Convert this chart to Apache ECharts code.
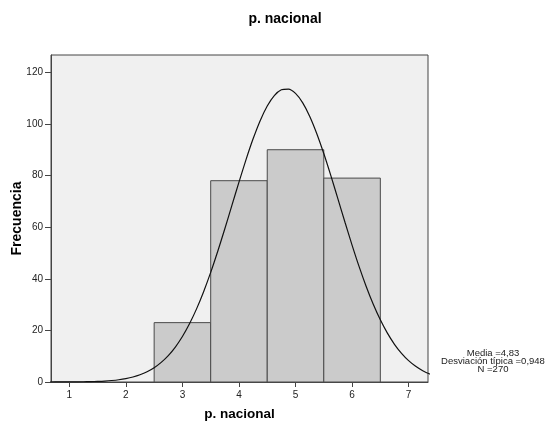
<!DOCTYPE html>
<html>
<head>
<meta charset="utf-8">
<script src="https://cdn.jsdelivr.net/npm/echarts@6/dist/echarts.min.js"></script>
<style>html,body{margin:0;padding:0;background:#fff}#c{width:553px;height:425px}</style>
</head>
<body>
<div id="c"></div>
<script>
var binCenters = [3, 4, 5, 6];
var binCounts = [23, 78, 90, 79];
var curveX = [0.5,0.75,1,1.25,1.375,1.5,1.625,1.75,1.875,2,2.125,2.25,2.375,2.5,2.625,2.75,2.875,3,3.125,3.25,3.375,3.5,3.625,3.75,3.875,4,4.125,4.25,4.375,4.5,4.625,4.75,4.875,5,5.125,5.25,5.375,5.5,5.625,5.75,5.875,6,6.125,6.25,6.375,6.5,6.625,6.75,6.875,7,7.125,7.25,7.375,7.5];
var curveY = [0.003,0.011,0.03,0.09,0.15,0.24,0.37,0.58,0.88,1.32,1.94,2.8,3.97,5.54,7.6,10.23,13.55,17.63,22.55,28.33,34.99,42.46,50.66,59.38,68.41,77.45,86.17,94.22,101.26,106.94,110.99,113.22,113.49,111.81,108.25,103.0,96.31,88.51,79.94,70.95,61.88,53.05,44.69,37.0,30.11,24.08,18.92,14.61,11.09,8.27,6.07,4.37,3.09,2.15];
var xTicks = [1,2,3,4,5,6,7];
var yTicks = [0,20,40,60,80,100,120];
var statLines = ['Media =4,83', 'Desviación típica =0,948', 'N =270'];

var chart = echarts.init(document.getElementById('c'), null, {renderer: 'canvas'});
var font = 'Liberation Sans, Arial, sans-serif';
var option = {
  animation: false,
  title: {
    text: 'p. nacional', left: 280, top: 7, textAlign: 'center',
    textStyle: {fontFamily: font, fontSize: 14, fontWeight: 'bold', color: '#000'}
  },
  grid: {left: 51, top: 55, right: 125, bottom: 43, show: true, backgroundColor: '#F0F0F0', borderColor: '#444', borderWidth: 1, outerBoundsMode: 'none', containLabel: false},
  xAxis: {
    type: 'value', min: 0.676, max: 7.343,
    name: 'p. nacional', nameLocation: 'middle', nameGap: 25, nameMoveOverlap: false,
    nameTextStyle: {fontFamily: font, fontSize: 13.5, fontWeight: 'bold', color: '#000'},
    axisLine: {show: true, lineStyle: {color: '#444'}},
    axisTick: {show: true, length: 5, customValues: xTicks, lineStyle: {color: '#444'}},
    axisLabel: {customValues: xTicks, fontFamily: font, fontSize: 10, color: '#222', margin: 8},
    splitLine: {show: false}
  },
  yAxis: {
    type: 'value', min: 0, max: 126.7,
    name: 'Frecuencia', nameLocation: 'middle', nameGap: 26.5, nameMoveOverlap: false,
    nameTextStyle: {fontFamily: font, fontSize: 14, fontWeight: 'bold', color: '#000'},
    axisLine: {show: true, lineStyle: {color: '#444'}},
    axisTick: {show: true, length: 6, customValues: yTicks, lineStyle: {color: '#444'}},
    axisLabel: {customValues: yTicks, fontFamily: font, fontSize: 10, color: '#222', margin: 8},
    splitLine: {show: false}
  },
  graphic: [{
    type: 'text', x: 493, y: 349,
    style: {text: statLines.join('\n'), fontFamily: font, fontSize: 9.5, lineHeight: 8.3, fill: '#222', textAlign: 'center', align: 'center'}
  }],
  series: [{
    type: 'custom',
    data: binCenters.map(function (c, i) { return [c, binCounts[i]]; }),
    renderItem: function (params, api) {
      var c = api.value(0), v = api.value(1);
      var p0 = api.coord([c - 0.5, v]);
      var p1 = api.coord([c + 0.5, 0]);
      return {
        type: 'rect',
        shape: {x: p0[0], y: p0[1], width: p1[0] - p0[0], height: p1[1] - p0[1]},
        style: {fill: '#CBCBCB', stroke: '#4a4a4a', lineWidth: 1}
      };
    },
    z: 2
  }, {
    type: 'line', smooth: 0.25, symbol: 'none', clip: true,
    data: curveX.map(function (x, i) { return [x, curveY[i]]; }),
    lineStyle: {color: '#111', width: 1.2},
    z: 3
  }]
};
chart.setOption(option);
</script>
</body>
</html>
